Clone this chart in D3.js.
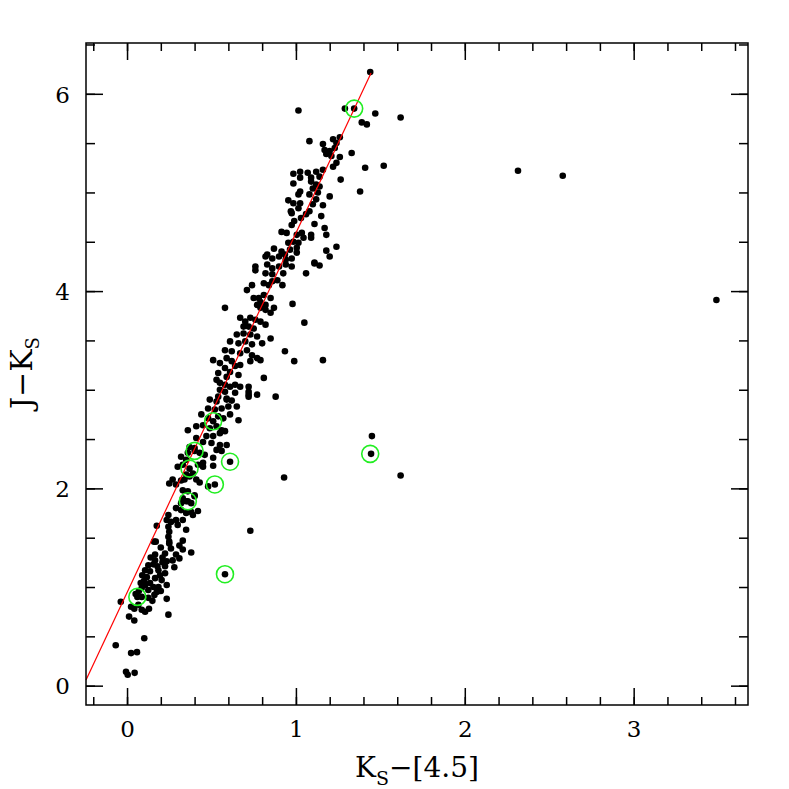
<!DOCTYPE html>
<html>
<head>
<meta charset="utf-8">
<style>
  body, html { margin: 0; padding: 0; background: #fff; }
  svg { display: block; }
</style>
</head>
<body>
<svg width="789" height="789"></svg>
<script src="https://d3js.org/d3.v7.min.js"></script>
<script>
// K_S-[4.5] vs J-K_S
var points = [
  // lower part of the sequence
  [0.17,1.46],[0.25,1.44],[0.33,1.47],[0.225,1.34],[0.29,1.33],[0.33,1.38],[0.38,1.35],[0.166,1.33],
  [0.166,1.27],[0.235,1.26],[0.27,1.27],[0.225,1.21],[0.28,1.20],[0.126,1.22],[0.156,1.23],[0.18,1.21],
  [0.107,1.17],[0.136,1.16],[0.186,1.17],[0.225,1.14],[0.195,1.12],[0.09,1.12],[0.117,1.10],[0.166,1.09],
  [0.205,1.07],[0.081,1.04],[0.107,1.02],[0.136,1.04],[0.156,1.00],[0.186,1.00],[0.235,1.02],[0.087,0.99],
  [0.126,0.97],[0.176,0.95],[0.162,0.92],[0.051,0.93],[0.061,0.90],[0.087,0.90],[0.126,0.89],[0.15,0.86],
  [0.235,0.88],[-0.037,0.85],[0.024,0.80],[0.043,0.78],[0.067,0.82],[0.087,0.77],[0.107,0.75],[0.13,0.78],
  [0.245,0.72],[0.012,0.70],[0.043,0.66],[0.102,0.48],[-0.067,0.41],[0.024,0.33],[0.059,0.34],[-0.006,0.14],
  [0.004,0.11],[0.045,0.13],[0.58,1.13],[0.176,1.62],[0.73,1.57],[0.93,2.11],
  [0.20,1.40],[0.26,1.39],[0.31,1.42],[0.21,1.30],[0.14,1.30],[0.31,1.29],[0.10,1.06],[0.20,0.96],
  [0.21,1.25],[0.07,0.96],
  // 1.5 < J-K < 3
  [0.49,2.90],[0.53,2.88],[0.59,2.90],[0.62,2.89],[0.48,2.81],[0.52,2.80],[0.56,2.81],[0.60,2.83],
  [0.72,2.93],[0.77,2.95],[0.88,2.93],[0.65,2.83],[0.44,2.75],[0.48,2.71],[0.54,2.73],[0.57,2.71],
  [0.61,2.75],[0.66,2.69],[0.41,2.63],[0.45,2.64],[0.49,2.61],[0.53,2.63],[0.56,2.59],[0.36,2.59],
  [0.47,2.53],[0.51,2.53],[0.55,2.56],[0.58,2.58],[0.41,2.51],[0.45,2.47],[0.50,2.46],[0.55,2.44],
  [0.59,2.44],[0.37,2.42],[0.40,2.41],[0.36,2.36],[0.53,2.39],[0.56,2.38],[0.43,2.36],[0.46,2.34],
  [0.32,2.32],[0.35,2.29],[0.51,2.31],[0.61,2.27],[0.45,2.26],[0.42,2.24],[0.45,2.22],[0.51,2.23],
  [0.30,2.22],[0.33,2.24],[0.37,2.20],[0.39,2.15],[0.35,2.14],[0.37,2.12],[0.27,2.09],[0.25,2.05],
  [0.29,2.04],[0.32,2.08],[0.34,2.09],[0.41,2.09],[0.43,2.06],[0.52,2.04],[0.48,2.02],[0.33,1.98],
  [0.36,1.97],[0.40,1.93],[0.33,1.90],[0.35,1.87],[0.38,1.85],[0.32,1.85],[0.40,1.92],[0.29,1.80],
  [0.32,1.78],[0.35,1.75],[0.38,1.76],[0.42,1.77],[0.39,1.73],[0.245,1.73],[0.235,1.68],[0.26,1.66],
  [0.29,1.68],[0.33,1.68],[0.30,1.63],[0.35,1.58],[0.245,1.61],[0.25,1.56],[0.245,1.51],[0.25,1.46],
  [0.16,1.46],[0.51,2.68],[0.40,2.38],[0.36,1.87],
  // 3 < J-K < 4.4
  [0.82,4.35],[0.86,4.33],[0.90,4.35],[0.94,4.32],[0.975,4.33],[0.76,4.25],[0.83,4.27],[0.86,4.23],
  [0.90,4.25],[0.94,4.27],[0.975,4.25],[0.76,4.21],[0.82,4.18],[0.86,4.17],[0.925,4.18],[0.89,4.11],
  [1.11,4.29],[1.14,4.26],[1.06,4.18],[0.81,4.08],[0.84,4.06],[0.86,4.10],[0.92,4.06],[0.74,4.06],
  [0.71,4.01],[0.75,3.93],[0.78,3.93],[0.81,3.96],[0.79,3.89],[0.82,3.86],[0.85,3.93],[0.77,3.86],
  [0.79,3.83],[0.82,3.81],[0.58,3.83],[0.87,3.83],[0.98,3.87],[0.67,3.73],[0.70,3.69],[0.73,3.73],
  [0.76,3.71],[0.79,3.69],[0.69,3.64],[0.72,3.64],[0.75,3.62],[0.82,3.66],[0.85,3.78],[1.05,3.68],
  [0.65,3.56],[0.69,3.57],[0.73,3.56],[0.77,3.54],[0.85,3.52],[0.61,3.49],[0.66,3.47],[0.70,3.49],
  [0.74,3.46],[0.80,3.47],[0.58,3.40],[0.62,3.39],[0.67,3.37],[0.71,3.40],[0.74,3.35],[0.77,3.32],
  [0.935,3.39],[0.51,3.30],[0.55,3.27],[0.59,3.32],[0.62,3.29],[0.64,3.24],[0.67,3.25],[0.73,3.29],
  [0.79,3.30],[0.99,3.29],[1.16,3.30],[0.58,3.22],[0.61,3.18],[0.54,3.17],[0.59,3.13],[0.66,3.15],
  [0.53,3.10],[0.55,3.07],[0.58,3.05],[0.61,3.03],[0.64,3.05],[0.67,3.03],[0.81,3.12],[0.55,3.00],
  [0.58,2.98],[0.64,2.97],[0.72,3.03],[0.72,2.98],[0.72,2.95],[0.54,2.93],[0.59,2.91],
  // upper part
  [1.42,5.69],[1.08,5.52],[1.16,5.49],[1.22,5.54],[1.26,5.56],[1.24,5.50],[1.23,5.45],[1.20,5.42],
  [1.18,5.39],[1.21,5.37],[1.17,5.43],[1.26,5.36],[1.33,5.40],[1.24,5.30],[1.22,5.26],[1.41,5.25],
  [0.985,5.19],[1.025,5.21],[1.07,5.20],[1.12,5.21],[1.16,5.23],[1.025,5.15],[1.09,5.15],[1.14,5.16],
  [0.985,5.09],[1.09,5.11],[1.12,5.08],[1.10,5.04],[1.14,5.06],[1.265,5.13],[1.025,5.01],[1.015,4.98],
  [1.08,4.98],[1.13,5.00],[1.20,4.96],[1.38,5.01],[0.955,4.92],[0.985,4.89],[1.025,4.89],[1.16,4.87],
  [1.12,4.93],[0.97,4.81],[1.015,4.84],[0.975,4.79],[1.08,4.81],[1.06,4.78],[1.10,4.88],[1.15,4.76],
  [1.11,4.68],[1.03,4.74],[0.99,4.71],[0.975,4.67],[1.17,4.64],[0.915,4.60],[0.945,4.59],[1.005,4.57],
  [1.035,4.59],[1.09,4.57],[1.045,4.54],[1.18,4.57],[0.955,4.49],[0.985,4.50],[1.015,4.49],[1.005,4.44],
  [0.87,4.43],[0.915,4.40],[0.965,4.42],[1.005,4.39],[0.83,4.37],[0.935,4.37],[1.09,4.54],[1.18,4.41],
  [1.20,4.35],[1.24,4.45],[1.11,4.28],
  [1.44,6.22],[1.015,5.83],[1.29,5.85],[1.345,5.85],[1.47,5.80],[1.62,5.76],[1.39,5.71],[1.52,5.27],
  // outliers
  [2.315,5.22],[2.58,5.17],[3.49,3.91],[1.445,2.35],[1.45,2.53],[1.62,2.13]
];

// sources marked with green rings
var circled = [
  [0.061,0.90],[0.58,1.13],[0.36,1.87],[0.52,2.04],[0.37,2.20],[0.61,2.27],
  [0.40,2.38],[0.51,2.68],[1.44,2.35],[1.345,5.85]
];

// red reddening line, end points
var redLine = [[-0.243,0.058],[1.445,6.21]];

var xMajor = [0, 1, 2, 3];
var xMinor = d3.range(-0.2, 3.61, 0.2);
var yMajor = [0, 2, 4, 6];
var yMinor = d3.range(0, 6.51, 0.5);

(function() {
  var pL = 86, pR = 748, pT = 43, pB = 705;

  var svg = d3.select("svg");
  var x = d3.scaleLinear().domain([-0.243, 3.677]).range([pL, pR]);
  var y = d3.scaleLinear().domain([-0.196, 6.515]).range([pB, pT]);

  var font = "'DejaVu Serif', 'Liberation Serif', serif";

  // dots
  svg.append("g").selectAll("circle").data(points).enter().append("circle")
    .attr("cx", function(d) { return x(d[0]); })
    .attr("cy", function(d) { return y(d[1]); })
    .attr("r", 3.3)
    .attr("fill", "#000");

  // red line
  svg.append("path")
    .datum(redLine)
    .attr("d", d3.line().x(function(d) { return x(d[0]); }).y(function(d) { return y(d[1]); }))
    .attr("stroke", "#ff0000")
    .attr("stroke-width", 1.2)
    .attr("fill", "none");

  // green rings
  svg.append("g").selectAll("circle").data(circled).enter().append("circle")
    .attr("cx", function(d) { return x(d[0]); })
    .attr("cy", function(d) { return y(d[1]); })
    .attr("r", 8.5)
    .attr("fill", "none")
    .attr("stroke", "#22ee22")
    .attr("stroke-width", 1.6);

  // axes: ticks point inward on all four sides
  function addAxis(axis, tx, ty, values, size, labels) {
    var g = svg.append("g")
      .attr("transform", "translate(" + tx + "," + ty + ")")
      .call(axis.tickValues(values).tickSize(size).tickPadding(0)
        .tickFormat(labels ? d3.format("d") : ""));
    g.select(".domain").remove();
    g.selectAll(".tick line").attr("stroke", "#000").attr("stroke-width", 1.5);
    return g;
  }

  addAxis(d3.axisBottom(x), 0, pB, xMinor, -8, false);
  addAxis(d3.axisTop(x), 0, pT, xMinor, -8, false);
  addAxis(d3.axisLeft(y), pL, 0, yMinor, -9, false);
  addAxis(d3.axisRight(y), pR, 0, yMinor, -9, false);
  addAxis(d3.axisTop(x), 0, pT, xMajor, -17, false);
  addAxis(d3.axisRight(y), pR, 0, yMajor, -17, false);

  var gx = addAxis(d3.axisBottom(x), 0, pB, xMajor, -17, true);
  gx.selectAll(".tick text")
    .attr("y", 32).attr("dy", 0)
    .attr("font-family", font).attr("font-size", 23).attr("fill", "#000");

  var gy = addAxis(d3.axisLeft(y), pL, 0, yMajor, -17, true);
  gy.selectAll(".tick text")
    .attr("x", -16).attr("dy", "0.36em")
    .attr("font-family", font).attr("font-size", 23).attr("fill", "#000");

  // frame
  svg.append("rect")
    .attr("x", pL).attr("y", pT)
    .attr("width", pR - pL).attr("height", pB - pT)
    .attr("fill", "none").attr("stroke", "#000").attr("stroke-width", 1.5);

  // axis titles
  var xt = svg.append("text")
    .attr("x", (pL + pR) / 2).attr("y", 777)
    .attr("text-anchor", "middle")
    .attr("font-family", font).attr("font-size", 28);
  xt.append("tspan").text("K");
  xt.append("tspan").attr("font-size", 19).attr("dy", 8).text("S");
  xt.append("tspan").attr("dy", -8).text("\u2212[4.5]");

  var yt = svg.append("text")
    .attr("transform", "translate(32,373) rotate(-90)")
    .attr("text-anchor", "middle")
    .attr("font-family", font).attr("font-size", 30);
  yt.append("tspan").text("J\u2212K");
  yt.append("tspan").attr("font-size", 18).attr("dy", 7).text("S");
})();
</script>
</body>
</html>
